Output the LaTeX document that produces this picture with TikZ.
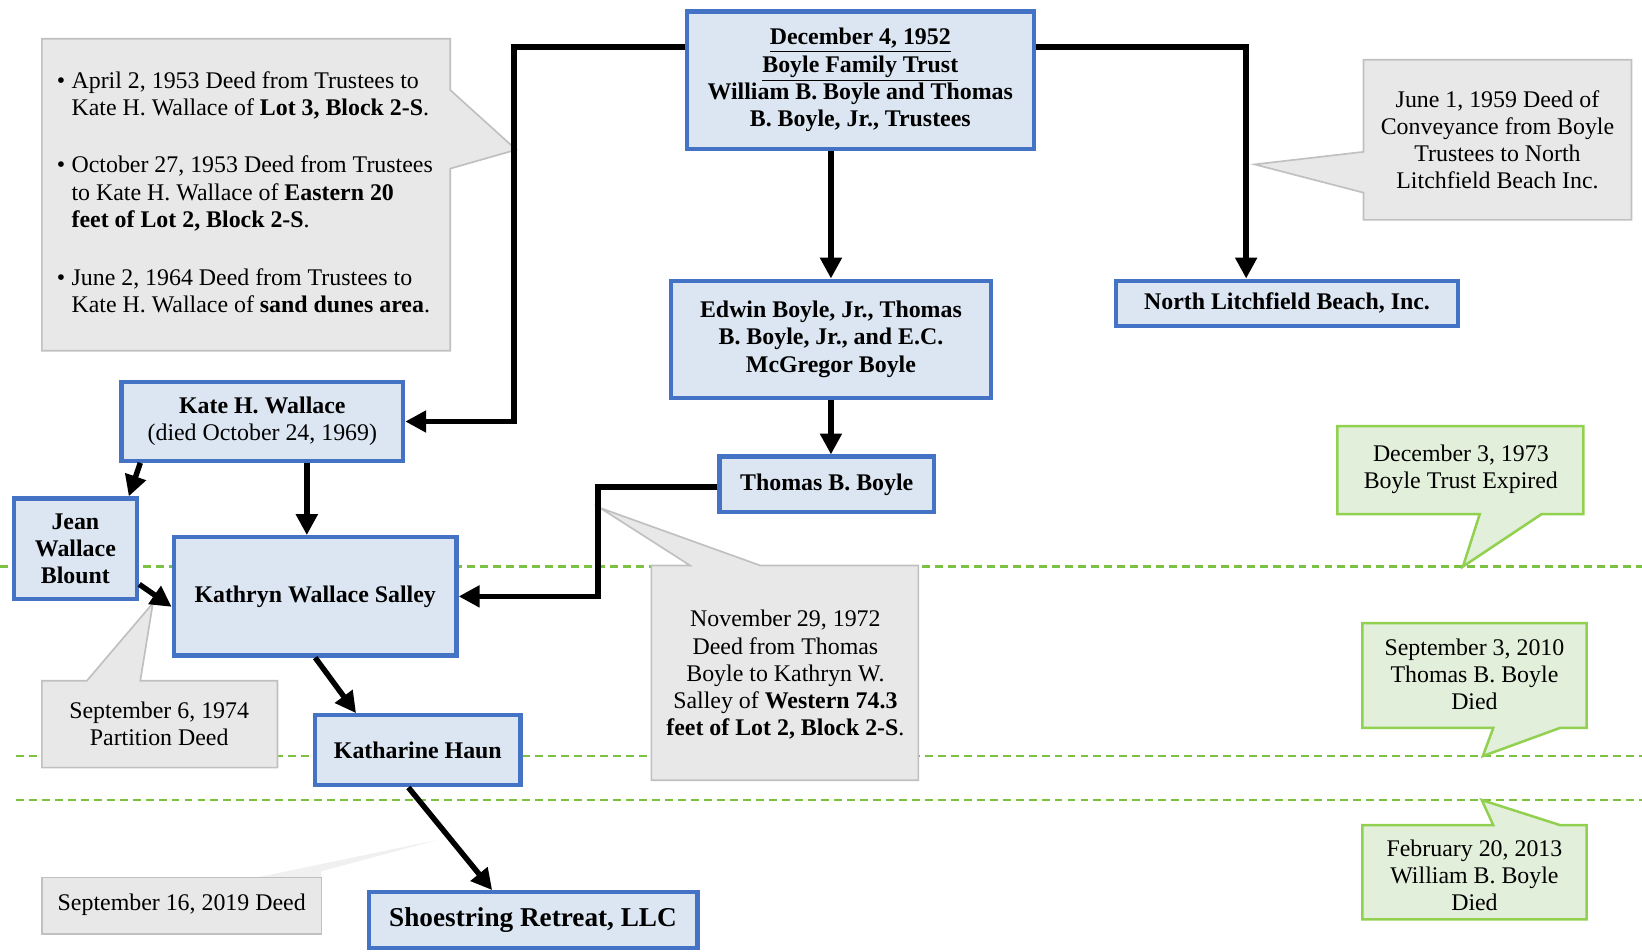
\documentclass[tikz,border=0pt]{standalone}
\usepackage{fontspec}
\setmainfont{Liberation Serif}
\usetikzlibrary{arrows.meta}

\definecolor{boxblue}{RGB}{68,114,196}
\definecolor{boxfill}{RGB}{220,230,242}
\definecolor{notegray}{RGB}{232,232,232}
\definecolor{noteline}{RGB}{192,192,192}
\definecolor{datefill}{RGB}{226,239,218}
\definecolor{dateline}{RGB}{146,208,80}
\definecolor{timeline}{RGB}{124,194,66}

\tikzset{
  owner/.style={draw=boxblue, line width=2pt, fill=boxfill, align=center, inner sep=0pt,
    font=\fontsize{11.4}{13}\selectfont\bfseries},
  deed/.style={fill=notegray, draw=noteline, line width=0.8pt},
  event/.style={fill=datefill, draw=dateline, line width=1.2pt},
  notetext/.style={font=\fontsize{11.4}{13}\selectfont, align=center, inner sep=0pt},
  flow/.style={line width=2.6pt, -{Triangle[length=10pt,width=10pt]}},
  yearline/.style={draw=timeline, line width=1.3pt, dash pattern=on 3.8pt off 2.4pt}
}

\begin{document}
\begin{tikzpicture}[x=0.5pt,y=-0.5pt]
            \useasboundingbox (0,0) rectangle (1568,909);

            % timeline
            \draw[yearline] (0,541) -- (1568,541);
            \draw[yearline] (15,722) -- (1568,722);
            \draw[yearline] (15,764) -- (1568,764);

            % deed notes
            \filldraw[deed] (40,37) -- (430,37) -- (430,86) -- (493,143) -- (430,161) -- (430,335) -- (40,335) -- cycle;
            \node (lot3) at (54,92) [notetext, anchor=west, align=left] {\begin{tabular}{@{}l@{\hspace{3pt}}l@{}}\textbullet & April 2, 1953 Deed from Trustees to\\ & Kate H. Wallace of \textbf{Lot 3, Block 2-S}.\end{tabular}};
            \node (eastlot) at (54,186) [notetext, anchor=west, align=left] {\begin{tabular}{@{}l@{\hspace{3pt}}l@{}}\textbullet & October 27, 1953 Deed from Trustees\\ & to Kate H. Wallace of \textbf{Eastern 20}\\ & \textbf{feet of Lot 2, Block 2-S}.\end{tabular}};
            \node (dunes) at (54,280) [notetext, anchor=west, align=left] {\begin{tabular}{@{}l@{\hspace{3pt}}l@{}}\textbullet & June 2, 1964 Deed from Trustees to\\ & Kate H. Wallace of \textbf{sand dunes area}.\end{tabular}};

            \filldraw[deed] (1302,57) -- (1558,57) -- (1558,210) -- (1302,210) -- (1302,184) -- (1198,157) -- (1302,145) -- cycle;
            \node (conveyance) at (1430,133.5) [notetext] {June 1, 1959 Deed of\\Conveyance from Boyle\\Trustees to North\\Litchfield Beach Inc.};

            \filldraw[deed] (622,540) -- (659,540) -- (573,485) -- (726,540) -- (877,540) -- (877,745) -- (622,745) -- cycle;
            \node (westlot) at (750,644.5) [notetext] {November 29, 1972\\Deed from Thomas\\Boyle to Kathryn W.\\Salley of \textbf{Western 74.3}\\\textbf{feet of Lot 2, Block 2-S}.};

            \filldraw[deed] (40,650) -- (83,650) -- (146,576) -- (134,650) -- (265,650) -- (265,733) -- (40,733) -- cycle;
            \node (partition) at (152,691.5) [notetext] {September 6, 1974\\Partition Deed};

            \fill[gray!12] (245,838) -- (418,802) -- (307,832) -- (307,838) -- cycle;
            \filldraw[deed] (40,838) rectangle (307,892);
            \node (sale) at (173.5,864) [notetext] {September 16, 2019 Deed};

            % events
            \filldraw[event] (1277,407) -- (1512,407) -- (1512,491) -- (1472,491) -- (1397,541) -- (1413,491) -- (1277,491) -- cycle;
            \node (expired) at (1395,448.5) [notetext] {December 3, 1973\\Boyle Trust Expired};
            \filldraw[event] (1301,595) -- (1515,595) -- (1515,695) -- (1490,695) -- (1416,722) -- (1426,695) -- (1301,695) -- cycle;
            \node (tbbdied) at (1408,644) [notetext] {September 3, 2010\\Thomas B. Boyle\\Died};
            \filldraw[event] (1301,788) -- (1426,788) -- (1415,764) -- (1490,788) -- (1515,788) -- (1515,878) -- (1301,878) -- cycle;
            \node (wbbdied) at (1408,836) [notetext] {February 20, 2013\\William B. Boyle\\Died};

            % owners
            \node (trust) at (821.5,76.5) [owner, minimum width=165.5pt, minimum height=65.5pt] {\underline{December 4, 1952}\\\underline{Boyle Family Trust}\\William B. Boyle and Thomas\\B. Boyle, Jr., Trustees};
            \node (edwin) at (793.5,324) [owner, minimum width=152.5pt, minimum height=56pt] {Edwin Boyle, Jr., Thomas\\B. Boyle, Jr., and E.C.\\McGregor Boyle};
            \node (nlb) at (1229,289.5) [owner, minimum width=163pt, minimum height=21.5pt] {North Litchfield Beach, Inc.};
            \node (kate) at (250.5,402.5) [owner, minimum width=134.5pt, minimum height=37.5pt] {Kate H. Wallace\\\mdseries(died October 24, 1969)};
            \node (tbb) at (789.5,462.5) [owner, minimum width=102.5pt, minimum height=26.5pt] {Thomas B. Boyle};
            \node (jean) at (72,524) [owner, minimum width=59pt, minimum height=48pt] {Jean\\Wallace\\Blount};
            \node (kathryn) at (301,569.5) [owner, minimum width=135pt, minimum height=56.5pt] {Kathryn Wallace Salley};
            \node (haun) at (399,716.5) [owner, minimum width=98pt, minimum height=33.5pt] {Katharine Haun};
            \node (shoe) at (509,878.5) [owner, minimum width=157pt, minimum height=26.5pt, font=\fontsize{13}{15}\selectfont\bfseries] {Shoestring Retreat, LLC};

            % transfers
            \coordinate (bendL) at (491,45);
            \coordinate (bendR) at (1190,45);
            \coordinate (bendT) at (571,465);
            \draw[flow] (trust.west |- bendL) -- (bendL) |- (kate.east);
            \draw[flow] (trust.east |- bendR) -- (bendR) -- (bendR |- nlb.north);
            \draw[flow] (edwin.north |- trust.south) -- (edwin.north);
            \draw[flow] (edwin.south) -- (edwin.south |- tbb.north);
            \draw[flow] (tbb.west |- bendT) -- (bendT) |- (kathryn.east);
            \draw[flow] ([xshift=10pt]kate.south west) -- ([xshift=-5pt]jean.north east);
            \draw[flow] ([xshift=-4pt]kathryn.north |- kate.south) -- ([xshift=-4pt]kathryn.north);
            \draw[flow] ([yshift=8pt]jean.south east) -- ([yshift=-5pt]kathryn.west);
            \draw[flow] (kathryn.south) -- ([xshift=-29.5pt]haun.north);
            \draw[flow] ([xshift=-4.5pt]haun.south) -- ([xshift=-19.5pt]shoe.north);
        \end{tikzpicture}
\end{document}
